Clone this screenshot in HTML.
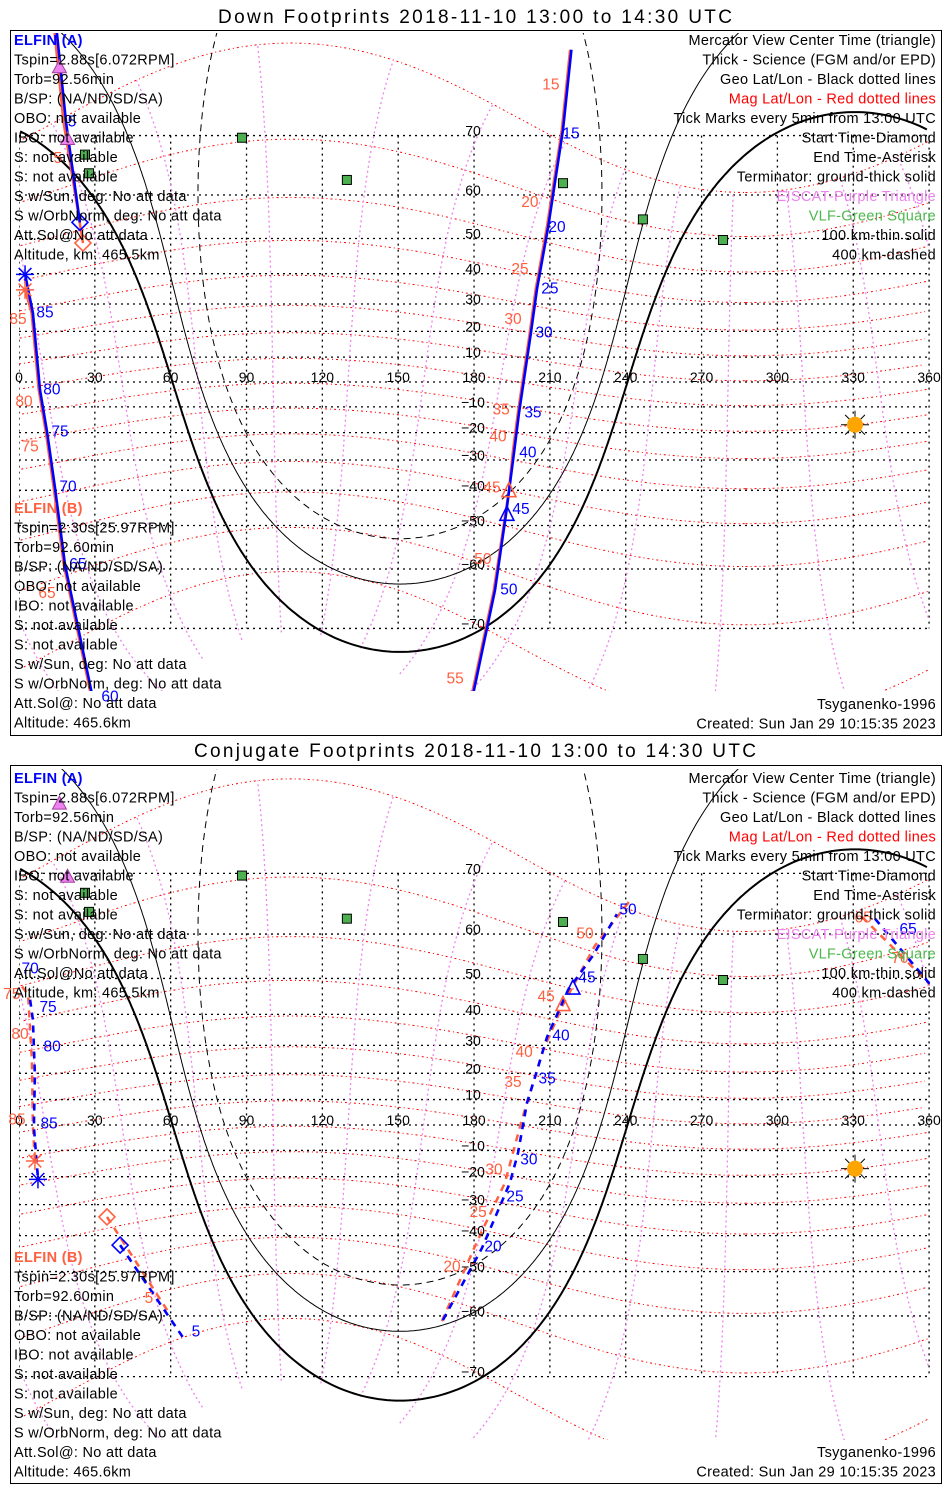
<!DOCTYPE html>
<html><head><meta charset="utf-8"><title>ELFIN Footprints</title>
<style>
html,body{margin:0;padding:0;background:#fff;width:950px;height:1500px;overflow:hidden;}
svg{display:block;font-family:"Liberation Sans",sans-serif;}
</style></head>
<body>
<svg id="chart" xmlns="http://www.w3.org/2000/svg" width="950" height="1500" viewBox="0 0 950 1500">
<rect x="0" y="0" width="950" height="1500" fill="#fff"/>
<text x="475" y="23" text-anchor="middle" font-size="19" textLength="514" lengthAdjust="spacing">Down Footprints 2018-11-10 13:00 to 14:30 UTC</text>
<text x="475" y="757" text-anchor="middle" font-size="19" textLength="562" lengthAdjust="spacing">Conjugate Footprints 2018-11-10 13:00 to 14:30 UTC</text>
<rect x="10.5" y="30.5" width="931" height="705" fill="none" stroke="#000"/>
<rect x="10.5" y="765.5" width="931" height="718" fill="none" stroke="#000"/>
</svg>
<script>
// ---------- data ----------
const gridLons=[0,30,60,90,120,150,180,210,240,270,300,330,360];
const gridLats=[-70,-60,-50,-40,-30,-20,-10,0,10,20,30,40,50,60,70];
const magLats=[-70,-60,-50,-40,-30,-20,-10,0,10,20,30,40,50,60,70];
const magMeridianRange=[-80,70];
const magPole=[80.5,-72.6];
const magMeridianRefLon=220.7;
const sunLon=330.7, sunLat=-17.0;
const termAngles=[90,100.1,109.7];
const vlfLon=[88.2,26.1,27.7,129.7,215.2,246.8,278.5];
const vlfLat=[69.7,67.2,64.1,62.9,62.3,54.7,49.6];
const eiscatLon=[16.0,19.2];
const eiscatLat=[77.6,69.6];

const downA=[[[24.1,54.0],[18.6,71.8],[14.5,81]],
 [[218.5,79],[215.2,70.8],[209.3,52.8],[204.9,35.1],[202.5,19.4],[197.8,-12.4],[195.8,-27.5],[192.6,-47.2],[188.3,-64.0],[179.0,-78]],
 [[29.5,-78],[18.2,-59.1],[14.2,-39.0],[11.1,-19.8],[8.3,-3.2],[5.5,26.8],[2.4,39.8]]];
const downB=[[[25.3,48.8],[17.6,71.8],[13.6,81]],
 [[218.0,79],[214.7,70.8],[208.8,52.8],[204.4,35.1],[202.0,19.4],[197.3,-12.4],[195.3,-27.5],[193.8,-40.1],[187.8,-64.0],[178.5,-78]],
 [[29.0,-78],[17.7,-59.1],[13.7,-39.0],[10.6,-19.8],[7.8,-3.2],[5.0,26.8],[2.4,34.8]]];
const downLabelsA=[[5,21.0,71.8],[15,218.4,70.2],[20,212.8,52.8],[25,210.0,35.1],[30,207.7,19.4],[35,203.3,-12.4],[40,201.3,-27.5],[45,198.6,-45.6],[50,193.8,-64.0],[60,36.0,-77.6],[65,23.3,-59.1],[70,19.4,-39.0],[75,16.2,-19.8],[80,13.0,-3.2],[85,10.3,26.8]];
const downLabelsB=[[5,15.4,66.6],[15,210.4,75.9],[20,202.1,58.4],[25,198.2,41.2],[30,195.4,24.4],[35,190.7,-11.2],[40,189.5,-21.6],[45,187.1,-39.3],[50,183.5,-58.0],[55,172.5,-75.9],[65,11.1,-64.6],[75,4.4,-25.4],[80,2.0,-8.0],[85,-0.4,24.4]];
const downStart=[[24.1,54.0],[25.3,48.8]];
const downEnd=[[2.4,39.8],[2.4,34.8]];
const downCenter=[[193.0,-47.0],[193.8,-40.1]];

const conjA=[[[40.0,-42.8],[65.7,-64.5]],
 [[167.7,-60.8],[183.1,-43.7],[194.2,-22.3],[197.4,-11.0],[200.9,8.6],[204.1,18.6],[208.9,32.8],[217.2,47.0],[227.1,55.5],[236.5,63.7]],
 [[338.6,62.9],[359.6,49.1],[362,47]],
 [[4.4,44.3],[5.5,38.3],[6.3,19.4],[5.9,-0.8],[7.5,-21.0]]];
const conjB=[[[34.8,-34.1],[59.7,-59.7]],
 [[167.3,-61.0],[181.6,-41.1],[192.2,-22.3],[198.9,2.0],[207.3,28.3],[215.2,42.9],[227.8,57.6],[241.7,66.0]],
 [[333.5,63.2],[361.2,47.9]],
 [[1.2,47.9],[3.6,45.7],[5.1,24.9],[5.5,-0.8],[6.3,-14.1]]];
const conjLabelsA=[[20,187.5,-43.4],[25,196.2,-27.3],[30,201.7,-13.7],[35,208.9,17.9],[40,214.4,33.2],[45,224.7,50.1],[50,240.9,64.4],[65,351.7,60.9],[70,4.4,52.3],[75,11.5,42.0],[80,13.1,29.4],[85,11.9,0.4],[5,70.0,-63.0]];
const conjLabelsB=[[20,171.3,-48.8],[25,181.6,-32.6],[30,187.9,-17.5],[35,195.4,16.5],[40,199.8,27.6],[45,208.5,45.1],[50,223.9,60.0],[65,333.9,63.0],[70,348.5,54.8],[75,-2.8,45.7],[80,0.4,33.6],[85,-0.8,2.0],[5,51.4,-56.4]];
const conjStart=[[40.0,-42.8],[34.8,-34.1]];
const conjEnd=[[7.5,-21.0],[6.3,-14.1]];
const conjCenter=[[219.1,47.5],[215.2,42.9]];

const infoA=["ELFIN (A)","Tspin=2.88s[6.072RPM]","Torb=92.56min","B/SP: (NA/ND/SD/SA)","OBO: not available","IBO: not available","S: not available","S: not available","S w/Sun, deg: No att data","S w/OrbNorm, deg: No att data","Att.Sol@No att data","Altitude, km: 465.5km"];
const infoB=["ELFIN (B)","Tspin=2.30s[25.97RPM]","Torb=92.60min","B/SP: (NA/ND/SD/SA)","OBO: not available","IBO: not available","S: not available","S: not available","S w/Sun, deg: No att data","S w/OrbNorm, deg: No att data","Att.Sol@: No att data","Altitude: 465.6km"];
const legendLines=["Mercator View Center Time (triangle)","Thick - Science (FGM and/or EPD)","Geo Lat/Lon - Black dotted lines","Mag Lat/Lon - Red dotted lines","Tick Marks every 5min from 13:00 UTC","Start Time-Diamond","End Time-Asterisk","Terminator: ground-thick solid","EISCAT-Purple Triangle","VLF-Green Square","100 km-thin solid","400 km-dashed"];
const legendColors=["#000","#000","#000","#ff0000","#000","#000","#000","#000","#ee82ee","#4cb84c","#000","#000"];

// ---------- helpers ----------
const NS='http://www.w3.org/2000/svg';
const svg=document.getElementById('chart');
const BLUE='#0000ff', TOM='#ff6040';
const D=Math.PI/180;
const FS=14.5, LS=0.3;
function mk(tag,attrs,parent){const e=document.createElementNS(NS,tag);for(const k in attrs)e.setAttribute(k,attrs[k]);(parent||svg).appendChild(e);return e;}
function X(lon){return 19+lon*2.528;}
function Y(p,lat){const l=Math.max(-89,Math.min(89,lat));return p.eq-p.k*Math.log(Math.tan(Math.PI/4+l*D/2));}
function pathFrom(p,pts,wrapBreak){let d='',pen=false,px=null;
 for(const q of pts){ if(q==null){pen=false;continue;}
  const x=X(q[0]),y=Y(p,q[1]);
  if(pen&&wrapBreak&&Math.abs(x-px)>400)pen=false;
  d+=(pen?'L':'M')+x.toFixed(1)+' '+y.toFixed(1);pen=true;px=x;}
 return d;}
function mag2geo(mlat,mlon){const a=(90-magPole[0])*D,lp=magPole[1]*D;
 const v=[Math.cos(mlat*D)*Math.cos(mlon*D),Math.cos(mlat*D)*Math.sin(mlon*D),Math.sin(mlat*D)];
 const v1=[Math.cos(a)*v[0]+Math.sin(a)*v[2],v[1],-Math.sin(a)*v[0]+Math.cos(a)*v[2]];
 const v2=[Math.cos(lp)*v1[0]-Math.sin(lp)*v1[1],Math.sin(lp)*v1[0]+Math.cos(lp)*v1[1],v1[2]];
 let lon=Math.atan2(v2[1],v2[0])/D;lon=((lon%360)+360)%360;
 return [lon,Math.asin(Math.max(-1,Math.min(1,v2[2])))/D];}
function geo2mag(lat,lon){const a=(90-magPole[0])*D,lp=magPole[1]*D;
 const v=[Math.cos(lat*D)*Math.cos(lon*D),Math.cos(lat*D)*Math.sin(lon*D),Math.sin(lat*D)];
 const v1=[Math.cos(-lp)*v[0]-Math.sin(-lp)*v[1],Math.sin(-lp)*v[0]+Math.cos(-lp)*v[1],v[2]];
 const vm=[Math.cos(-a)*v1[0]+Math.sin(-a)*v1[2],v1[1],-Math.sin(-a)*v1[0]+Math.cos(-a)*v1[2]];
 return [Math.asin(vm[2])/D,Math.atan2(vm[1],vm[0])/D];}

const panels=[
 {id:'down',eq:382,k:142,top:33,bot:691,dashed:false,tracks:[downA,downB],labels:[downLabelsA,downLabelsB],start:downStart,end:downEnd,center:downCenter,infoY:41,infoBY:509,footY:705},
 {id:'conj',eq:1125,k:145,top:769,bot:1440,dashed:true,tracks:[conjA,conjB],labels:[conjLabelsA,conjLabelsB],start:conjStart,end:conjEnd,center:conjCenter,infoY:779,infoBY:1258,footY:1453}
];

const defs=mk('defs',{});
panels.forEach(p=>{
 const cp=mk('clipPath',{id:'clip-'+p.id},defs);
 mk('rect',{x:19,y:p.top,width:911,height:p.bot-p.top},cp);
});

panels.forEach(p=>{
 const g=mk('g',{'clip-path':'url(#clip-'+p.id+')'});
 
 
 const y70=Y(p,70),ym70=Y(p,-70);
 gridLats.forEach(lat=>{
  const l=mk('line',{x1:19,x2:930,y1:Y(p,lat),y2:Y(p,lat),stroke:'#000','stroke-width':1.3,'stroke-dasharray':'2,4'},g);
  
  
 });
 gridLons.forEach(lon=>{
  const l=mk('line',{x1:X(lon),x2:X(lon),y1:y70,y2:ym70,stroke:'#000','stroke-width':1.3,'stroke-dasharray':'2,4'},g);
  
  
 });
 magLats.forEach(ml=>{
  const pts=[];for(let m=0;m<=360;m+=2)pts.push(mag2geo(ml,m));
  const e=mk('path',{d:pathFrom(p,pts,true),fill:'none',stroke:'#ff0000','stroke-width':1,'stroke-dasharray':'2,3,1,3'},g);
  
  
 });
 const m0=geo2mag(0,magMeridianRefLon)[1];
 for(let k=0;k<12;k++){
  const mlon=m0+30*k;const pts=[];
  for(let ml=magMeridianRange[0];ml<=magMeridianRange[1];ml+=1)pts.push(mag2geo(ml,mlon));
  const e=mk('path',{d:pathFrom(p,pts,true),fill:'none',stroke:'#ee82ee','stroke-width':1.3,'stroke-dasharray':'2,3'},g);
  
  
 }
 termAngles.forEach((th,i)=>{
  const pts=[];const ls=sunLat*D,t=th*D;
  for(let az=0;az<=360;az+=0.5){const a=az*D;
   const lat2=Math.asin(Math.sin(ls)*Math.cos(t)+Math.cos(ls)*Math.sin(t)*Math.cos(a));
   let lon2=sunLon+Math.atan2(Math.sin(a)*Math.sin(t)*Math.cos(ls),Math.cos(t)-Math.sin(ls)*Math.sin(lat2))/D;
   lon2=((lon2%360)+360)%360;pts.push([lon2,lat2/D]);}
  const e=mk('path',{d:pathFrom(p,pts,true),fill:'none',stroke:'#000','stroke-width':i==0?2:1,'stroke-dasharray':i==2?'7,5':'none'},g);
  
  
 });
 [1,0].forEach(s=>{
  p.tracks[s].forEach(seg=>{
   const e=mk('path',{d:pathFrom(p,seg,false),fill:'none',stroke:s?TOM:BLUE,'stroke-width':s?2.5:2.6,'stroke-dasharray':p.dashed?'7,6':'none'},g);
   
   
  });
 });
});

panels.forEach(p=>{
 gridLons.forEach(lon=>{
  const t=mk('text',{x:X(lon),y:Y(p,0)-5,'text-anchor':'middle','dominant-baseline':'central','font-size':14});
  t.textContent=lon;
  
  
 });
 gridLats.forEach(lat=>{ if(lat===0)return;
  const t=mk('text',{x:473,y:Y(p,lat)-5,'text-anchor':'middle','dominant-baseline':'central','font-size':14});
  t.textContent=lat<0?'\u2212'+(-lat):lat;
  
  
 });
 vlfLon.forEach((lon,i)=>{
  const x=X(lon),y=Y(p,vlfLat[i]);
  const r=mk('rect',{x:x-4.5,y:y-4.5,width:9,height:9,fill:'#4cb050',stroke:'#000','stroke-width':1});
  
  
 });
 eiscatLon.forEach((lon,i)=>{
  const x=X(lon),y=Y(p,eiscatLat[i]);
  const e=mk('polygon',{points:`${x},${y-7} ${x-7},${y+6} ${x+7},${y+6}`,fill:'#ee82ee',stroke:'#a040a0','stroke-width':1});
  
  
 });
 const sx=X(sunLon),sy=Y(p,sunLat);
 const sg=mk('g',{});
 
 
 for(let k=0;k<8;k++){const a=k*Math.PI/4;mk('line',{x1:sx+8*Math.cos(a),y1:sy+8*Math.sin(a),x2:sx+14*Math.cos(a),y2:sy+14*Math.sin(a),stroke:'#000','stroke-width':1},sg);}
 mk('circle',{cx:sx,cy:sy,r:8,fill:'#ffa500'},sg);
 [0,1].forEach(s=>{
  const col=s?TOM:BLUE;
  const [dl,da]=p.start[s];const dx=X(dl),dy=Y(p,da);
  const dm=mk('polygon',{points:`${dx},${dy-8} ${dx+8},${dy} ${dx},${dy+8} ${dx-8},${dy}`,fill:'none',stroke:col,'stroke-width':1.6});
  
  
  const [el,ea]=p.end[s];const ex=X(el),ey=Y(p,ea);
  const ag=mk('g',{stroke:col,'stroke-width':1.5});
  
  
  for(let k=0;k<4;k++){const a=k*Math.PI/4;mk('line',{x1:ex-9*Math.cos(a),y1:ey-9*Math.sin(a),x2:ex+9*Math.cos(a),y2:ey+9*Math.sin(a)},ag);}
  const [cl,ca]=p.center[s];const cx=X(cl),cy=Y(p,ca);
  const tr=mk('polygon',{points:`${cx},${cy-8} ${cx+7},${cy+6} ${cx-7},${cy+6}`,fill:'none',stroke:col,'stroke-width':1.6});
  
  
  p.labels[s].forEach(([t,lon,lat])=>{
   const tx=mk('text',{x:X(lon),y:Y(p,lat),'text-anchor':'middle','dominant-baseline':'central','font-size':15.5,fill:col});
   tx.textContent=t;
   
   
  });
 });
 [[infoA,p.infoY,BLUE],[infoB,p.infoBY,TOM]].forEach(([lines,y0,col])=>{
  lines.forEach((s,i)=>{
   const t=mk('text',{x:14,y:y0+i*19.5,'dominant-baseline':'central','font-size':FS,'letter-spacing':LS,fill:i==0?col:'#000','font-weight':i==0?'bold':'normal'});
   t.textContent=s;
   
   
  });
 });
 legendLines.forEach((s,i)=>{
  const t=mk('text',{x:936,y:p.infoY+i*19.5,'text-anchor':'end','dominant-baseline':'central','font-size':FS,'letter-spacing':LS,fill:legendColors[i]});
  t.textContent=s;
  
  
 });
 const f1=mk('text',{x:936,y:p.footY,'text-anchor':'end','dominant-baseline':'central','font-size':FS,'letter-spacing':LS});
 f1.textContent='Tsyganenko-1996';
 
 
 const f2=mk('text',{x:936,y:p.footY+19.5,'text-anchor':'end','dominant-baseline':'central','font-size':FS,'letter-spacing':LS});
 f2.textContent='Created: Sun Jan 29 10:15:35 2023';
 
 
});
</script>
</body></html>
